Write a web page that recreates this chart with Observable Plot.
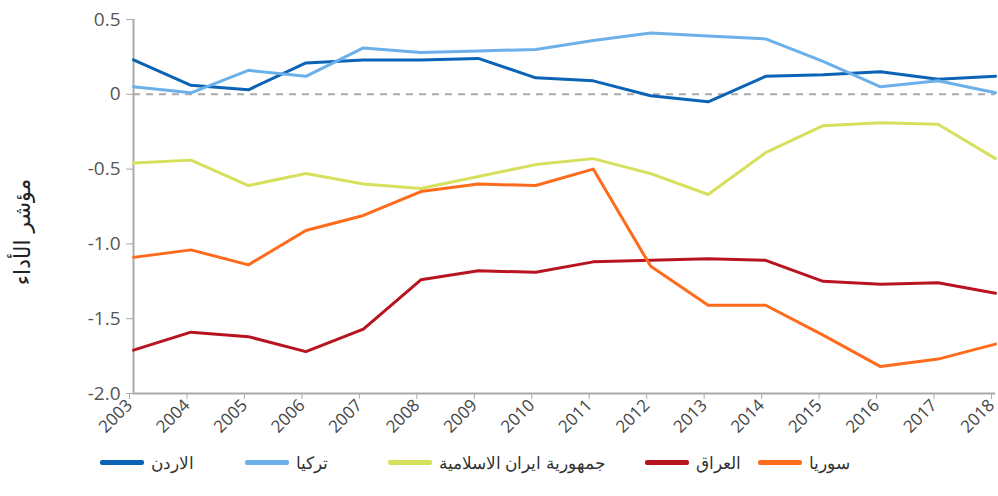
<!DOCTYPE html>
<html><head><meta charset="utf-8">
<script src="https://cdn.jsdelivr.net/npm/d3@7"></script>
<script src="https://cdn.jsdelivr.net/npm/@observablehq/plot@0.6"></script>
<style>
body{margin:0;background:#fff;font-family:"Open Sans",sans-serif;}
#wrap{position:relative;width:998px;height:496px;overflow:hidden;}
#chart{position:absolute;left:0;top:0;}
#ylab{position:absolute;left:22px;top:232px;transform:translate(-50%,-50%) rotate(-90deg);font-family:"DejaVu Sans",sans-serif;font-size:22px;color:#222;white-space:nowrap;direction:rtl;letter-spacing:1px;}
.leg{position:absolute;top:451px;display:flex;align-items:center;font-size:17px;color:#333;white-space:nowrap;}
.sw{display:inline-block;width:44px;height:5px;border-radius:2px;margin-right:7px;}
</style></head>
<body><div id="wrap"><div id="chart"></div><div id="ylab">مؤشر الأداء</div><div id="legend"></div></div>
<script>
const years = [2003,2004,2005,2006,2007,2008,2009,2010,2011,2012,2013,2014,2015,2016,2017,2018];
const seriesNames = ["الاردن","تركيا","جمهورية ايران الاسلامية","العراق","سوريا"];
const seriesColors = ["#0b63b5","#6cb0ea","#d6e05c","#b8141f","#ff6b1c"];
const jordan = [0.23,0.06,0.03,0.21,0.23,0.23,0.24,0.11,0.09,-0.01,-0.05,0.12,0.13,0.15,0.10,0.12];
const turkey = [0.05,0.01,0.16,0.12,0.31,0.28,0.29,0.30,0.36,0.41,0.39,0.37,0.22,0.05,0.09,0.01];
const iran = [-0.46,-0.44,-0.61,-0.53,-0.60,-0.63,-0.55,-0.47,-0.43,-0.53,-0.67,-0.39,-0.21,-0.19,-0.20,-0.43];
const iraq = [-1.71,-1.59,-1.62,-1.72,-1.57,-1.24,-1.18,-1.19,-1.12,-1.11,-1.10,-1.11,-1.25,-1.27,-1.26,-1.33];
const syria = [-1.09,-1.04,-1.14,-0.91,-0.81,-0.65,-0.60,-0.61,-0.50,-1.15,-1.41,-1.41,-1.61,-1.82,-1.77,-1.67];
const yTicks = [0.5,0,-0.5,-1.0,-1.5,-2.0];

const allSeries = [jordan,turkey,iran,iraq,syria];
const rows = [];
allSeries.forEach((vals,i)=>vals.forEach((v,j)=>rows.push({year:years[j],value:v,series:seriesNames[i]})));

const chart = Plot.plot({
  width: 998, height: 448,
  marginLeft: 133, marginRight: 3, marginTop: 19, marginBottom: 55,
  style: {fontFamily: "Open Sans, sans-serif", color: "#555", background: "#fff"},
  x: {domain: [2003, 2018], ticks: years, tickFormat: d => String(d), label: null},
  y: {domain: [-2, 0.5], ticks: yTicks, tickFormat: d => d === 0 ? "0" : d.toFixed(1), label: null},
  color: {domain: seriesNames, range: seriesColors},
  marks: [
    Plot.ruleY([0], {stroke: "#aaa", strokeWidth: 2, strokeDasharray: "7,6"}),
    Plot.ruleX([2003], {stroke: "#aaa", strokeWidth: 2}),
    Plot.ruleY([-2], {stroke: "#aaa", strokeWidth: 2}),
    Plot.axisY({ticks: yTicks, tickFormat: d => d === 0 ? "0" : d.toFixed(1), tickSize: 7, tickPadding: 6, fontSize: 19, stroke: "#aaa", fill: "#555", label: null}),
    Plot.axisX({ticks: years, tickFormat: d => String(d), tickSize: 6, tickRotate: -45, tickPadding: 3, dx: -4, fontSize: 17, stroke: "#aaa", fill: "#444", label: null}),
    Plot.line(rows, {x: "year", y: "value", z: "series", stroke: "series", strokeWidth: 3, curve: "linear"})
  ]
});
document.getElementById("chart").appendChild(chart);

const legPos = [100, 245, 388, 645, 758];
const leg = document.getElementById("legend");
seriesNames.forEach((n,i)=>{
  const d = document.createElement("div");
  d.className = "leg";
  d.style.left = legPos[i] + "px";
  d.innerHTML = `<span class="sw" style="background:${seriesColors[i]}"></span><span dir="rtl">${n}</span>`;
  leg.appendChild(d);
});
</script></body></html>
